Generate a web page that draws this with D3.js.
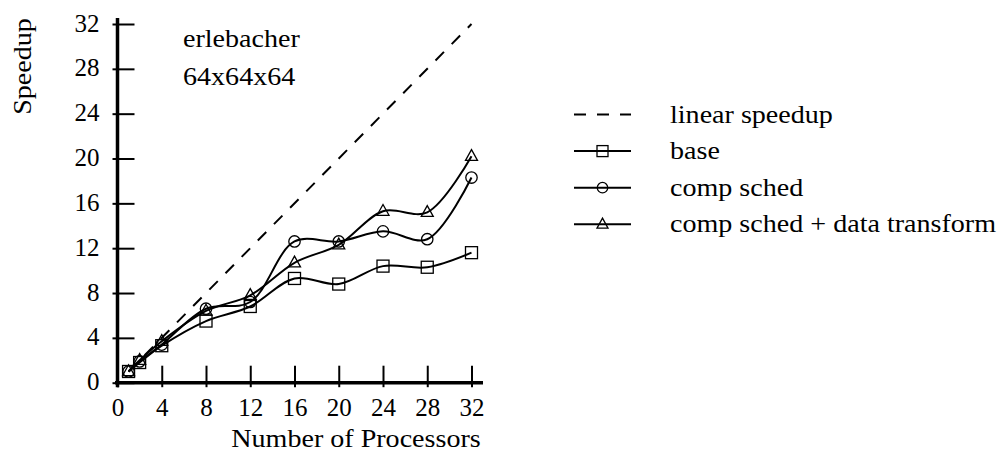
<!DOCTYPE html>
<html>
<head>
<meta charset="utf-8">
<script src="https://cdn.jsdelivr.net/npm/d3@7"></script>
<style>
  html, body { margin: 0; padding: 0; background: #fff; }
  svg { display: block; }
  text { font-family: "Liberation Serif", "Times New Roman", serif; fill: #000; }
</style>
</head>
<body>
<svg id="chart" width="1001" height="455"></svg>
<script>
// Speedup measurements for erlebacher (64x64x64)
const processors = [1, 2, 4, 8, 12, 16, 20, 24, 28, 32];
const baseSpeedup = [1.0, 1.8, 3.3, 5.5, 6.8, 9.3, 8.8, 10.4, 10.3, 11.6];
const compSchedSpeedup = [1.0, 1.9, 3.4, 6.6, 7.2, 12.6, 12.6, 13.5, 12.8, 18.3];
const compSchedDataSpeedup = [1.0, 2.0, 3.7, 6.4, 7.8, 10.7, 12.3, 15.3, 15.2, 20.2];
const linearEnds = [1, 32];

const xTicks = [0, 4, 8, 12, 16, 20, 24, 28, 32];
const yTicks = [0, 4, 8, 12, 16, 20, 24, 28, 32];

const titleLines = ["erlebacher", "64x64x64"];
const xTitle = "Number of Processors";
const yTitle = "Speedup";
const legendLabels = ["linear speedup", "base", "comp sched", "comp sched + data transform"];

const svg = d3.select("#chart");
const x = d3.scaleLinear().domain([0, 32]).range([117.5, 471.5]);
const y = d3.scaleLinear().domain([0, 32]).range([382.7, 24]);

const FONT = '"Liberation Serif", "Times New Roman", serif';
const stretch = 1.08;
function label(g, str, px, py, size, anchor, rotate) {
  const rot = rotate ? ` rotate(${rotate})` : "";
  return g.append("text")
    .attr("transform", `translate(${px},${py})${rot} scale(${stretch},1)`)
    .attr("text-anchor", anchor || "start")
    .style("font-family", FONT)
    .style("font-size", size + "px")
    .text(str);
}

// Axes: ticks point into the plot and poke a little outside the axis line
const xAxis = svg.append("g")
  .attr("transform", `translate(0,${y(0)})`)
  .call(d3.axisBottom(x).tickValues(xTicks).tickSizeInner(-17).tickSizeOuter(0).tickPadding(16));
const yAxis = svg.append("g")
  .attr("transform", `translate(${x(0)},0)`)
  .call(d3.axisLeft(y).tickValues(yTicks).tickSizeInner(-17).tickSizeOuter(0).tickPadding(18));

[xAxis, yAxis].forEach(a => {
  a.attr("font-family", null).attr("font-size", null);
  a.select(".domain").remove();
  a.selectAll(".tick line").attr("stroke", "#000").attr("stroke-width", 2);
  a.selectAll(".tick text").style("font-size", "25px").attr("fill", "#000")
    .style("font-family", FONT);
});
xAxis.selectAll(".tick line").attr("y1", 4.5);
yAxis.selectAll(".tick line").attr("x1", -5);
yAxis.selectAll(".tick text").attr("dy", "0.28em");

svg.append("line")
  .attr("x1", x(0)).attr("x2", x(0))
  .attr("y1", y(32) - 6).attr("y2", y(0) + 4.5)
  .attr("stroke", "#000").attr("stroke-width", 3.5);
svg.append("line")
  .attr("x1", x(0) - 2.5).attr("x2", x(32) + 11.5)
  .attr("y1", y(0)).attr("y2", y(0))
  .attr("stroke", "#000").attr("stroke-width", 3.5);

// Axis titles and chart caption
label(svg, xTitle, 356, 447, 26, "middle");
label(svg, yTitle, 31, 66.5, 26, "middle", -90);
label(svg, titleLines[0], 183, 46.7, 26, "start");
label(svg, titleLines[1], 183, 85, 26, "start");

// Linear speedup reference
svg.append("line")
  .attr("x1", x(linearEnds[0])).attr("y1", y(linearEnds[0]))
  .attr("x2", x(linearEnds[1])).attr("y2", y(linearEnds[1]))
  .attr("stroke", "#000").attr("stroke-width", 2)
  .attr("stroke-dasharray", "12 11");

const series = [
  { values: baseSpeedup, shape: "square" },
  { values: compSchedSpeedup, shape: "circle" },
  { values: compSchedDataSpeedup, shape: "triangle" }
];

const line = d3.line()
  .x(d => x(d[0]))
  .y(d => y(d[1]))
  .curve(d3.curveCatmullRom.alpha(0.5));

function marker(g, shape, cx, cy, s) {
  const h = s / 2;
  let el;
  if (shape === "square") {
    el = g.append("rect").attr("x", cx - h).attr("y", cy - h).attr("width", s).attr("height", s);
  } else if (shape === "circle") {
    el = g.append("circle").attr("cx", cx).attr("cy", cy).attr("r", h * 0.95);
  } else {
    const th = s * 0.9;
    el = g.append("path")
      .attr("d", `M${cx},${cy - th * 0.62}L${cx + h},${cy + th * 0.38}L${cx - h},${cy + th * 0.38}Z`);
  }
  el.attr("fill", "none").attr("stroke", "#000").attr("stroke-width", 1.3);
}

series.forEach(s => {
  const pts = processors.map((p, i) => [p, s.values[i]]);
  svg.append("path")
    .attr("d", line(pts))
    .attr("fill", "none").attr("stroke", "#000").attr("stroke-width", 2);
  const g = svg.append("g");
  pts.forEach(p => marker(g, s.shape, x(p[0]), y(p[1]), 12));
});

// Legend
const legend = svg.append("g");
const rowY0 = 114.5, rowStep = 36.6;
legendLabels.forEach((t, i) => {
  const ry = rowY0 + i * rowStep;
  const ln = legend.append("line")
    .attr("x1", 574).attr("x2", 631).attr("y1", ry).attr("y2", ry)
    .attr("stroke", "#000").attr("stroke-width", 2);
  if (i === 0) ln.attr("stroke-dasharray", "12 11");
  else marker(legend, series[i - 1].shape, 602.5, ry, 11);
  label(legend, t, 670, ry + 8, 26, "start");
});
</script>
</body>
</html>
